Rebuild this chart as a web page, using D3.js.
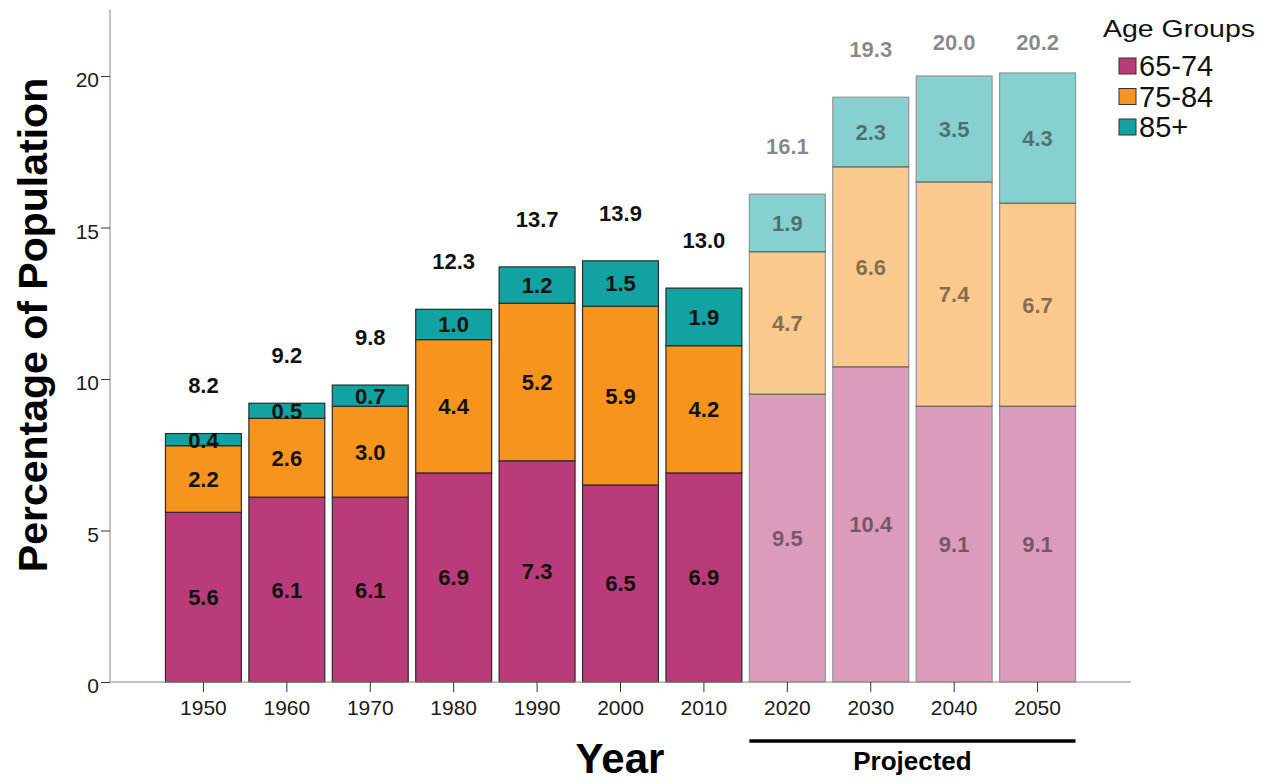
<!DOCTYPE html>
<html>
<head>
<meta charset="utf-8">
<script src="https://cdn.jsdelivr.net/npm/d3@7"></script>
<style>
  html, body { margin: 0; padding: 0; background: #fff; }
  svg { display: block; font-family: "Liberation Sans", Arial, Helvetica, sans-serif; }
</style>
</head>
<body>
<svg id="chart" width="1266" height="784"></svg>
<script>
// Share of the population aged 65+, by age group (percent)
const years = ["1950", "1960", "1970", "1980", "1990", "2000", "2010", "2020", "2030", "2040", "2050"];
const projectedYears = ["2020", "2030", "2040", "2050"];
const ageGroups = ["65-74", "75-84", "85+"];
const age65to74 = [5.6, 6.1, 6.1, 6.9, 7.3, 6.5, 6.9, 9.5, 10.4, 9.1, 9.1];
const age75to84 = [2.2, 2.6, 3.0, 4.4, 5.2, 5.9, 4.2, 4.7, 6.6, 7.4, 6.7];
const age85plus = [0.4, 0.5, 0.7, 1.0, 1.2, 1.5, 1.9, 1.9, 2.3, 3.5, 4.3];
const totals = [8.2, 9.2, 9.8, 12.3, 13.7, 13.9, 13.0, 16.1, 19.3, 20.0, 20.2];
const yTicks = [0, 5, 10, 15, 20];
const groupColors = ["#b93b7a", "#f7941d", "#12a2a2"];

const rows = years.map((yr, i) => ({
  year: yr,
  "65-74": age65to74[i],
  "75-84": age75to84[i],
  "85+": age85plus[i],
  total: totals[i],
  projected: projectedYears.includes(yr)
}));

const svg = d3.select("#chart");
const axisLeft = 110, axisRight = 1131, axisBottom = 682;

const x = d3.scaleBand()
  .domain(years)
  .range([axisLeft, axisRight])
  .paddingInner(0.09)
  .paddingOuter(0.665);

const y = d3.scaleLinear()
  .domain([0, 22.2])
  .range([axisBottom, axisBottom - 22.2 * 30.3]);

const color = d3.scaleOrdinal().domain(ageGroups).range(groupColors);

const series = d3.stack().keys(ageGroups)(rows);

// Stacked bars; projected years drawn at half strength
const layers = svg.append("g").selectAll("g")
  .data(series)
  .join("g")
  .attr("fill", d => color(d.key));

layers.selectAll("rect")
  .data(d => d)
  .join("rect")
  .attr("x", d => x(d.data.year))
  .attr("width", x.bandwidth())
  .attr("y", d => y(d[1]))
  .attr("height", d => y(d[0]) - y(d[1]))
  .attr("stroke", "#2b2b2b")
  .attr("stroke-width", 1.2)
  .attr("opacity", d => d.data.projected ? 0.5 : 1);

// Segment values
const segLabels = svg.append("g")
  .attr("font-weight", "bold")
  .attr("font-size", 22)
  .attr("text-anchor", "middle");

series.forEach(s => {
  segLabels.selectAll(null)
    .data(s)
    .join("text")
    .attr("x", d => x(d.data.year) + x.bandwidth() / 2)
    .attr("y", d => (y(d[0]) + y(d[1])) / 2)
    .attr("dy", "0.36em")
    .attr("fill", "#111")
    .attr("fill-opacity", d => d.data.projected ? 0.5 : 1)
    .text(d => (d[1] - d[0]).toFixed(1));
});

// Totals above each bar
svg.append("g")
  .attr("font-weight", "bold")
  .attr("font-size", 22)
  .attr("text-anchor", "middle")
  .selectAll("text")
  .data(rows)
  .join("text")
  .attr("x", d => x(d.year) + x.bandwidth() / 2)
  .attr("y", d => Math.max(y(d.total) - 48, 42))
  .attr("dy", "0.36em")
  .attr("fill", "#111")
  .attr("fill-opacity", d => d.projected ? 0.5 : 1)
  .text(d => d.total.toFixed(1));

// Axes
const axisColor = "#858585";

const gy = svg.append("g")
  .attr("transform", `translate(${axisLeft},0)`)
  .call(d3.axisLeft(y).tickValues(yTicks).tickFormat(d3.format("d")).tickSize(9).tickPadding(2));
gy.select(".domain").attr("stroke", axisColor).attr("d", `M0,${y(0)}V${y(22.2)}`);
gy.selectAll(".tick line").attr("stroke", "#333");
gy.selectAll(".tick text")
  .attr("font-size", 21)
  .attr("fill", "#1a1a1a")
  .attr("font-family", "'Liberation Sans', Arial, sans-serif")
  .attr("dy", "0.5em");

const gx = svg.append("g")
  .attr("transform", `translate(0,${axisBottom})`)
  .call(d3.axisBottom(x).tickSize(10).tickSizeOuter(0).tickPadding(8));
gx.select(".domain").attr("stroke", axisColor).attr("d", `M${axisLeft},0H${axisRight}`);
gx.selectAll(".tick line").attr("stroke", "#333");
gx.selectAll(".tick text")
  .attr("font-size", 21)
  .attr("fill", "#1a1a1a")
  .attr("font-family", "'Liberation Sans', Arial, sans-serif");

// Axis titles
svg.append("text")
  .attr("transform", `translate(47,${325}) rotate(-90)`)
  .attr("text-anchor", "middle")
  .attr("font-weight", "bold")
  .attr("font-size", 41)
  .attr("fill", "#000")
  .text("Percentage of Population");

svg.append("text")
  .attr("x", 620)
  .attr("y", 773)
  .attr("text-anchor", "middle")
  .attr("font-weight", "bold")
  .attr("font-size", 42)
  .attr("fill", "#000")
  .text("Year");

// Bracket over the projected years
const firstProj = x(projectedYears[0]);
const lastProj = x(projectedYears[projectedYears.length - 1]) + x.bandwidth();
svg.append("line")
  .attr("x1", firstProj).attr("x2", lastProj)
  .attr("y1", 741).attr("y2", 741)
  .attr("stroke", "#000")
  .attr("stroke-width", 3.5);

svg.append("text")
  .attr("x", (firstProj + lastProj) / 2)
  .attr("y", 770)
  .attr("text-anchor", "middle")
  .attr("font-weight", "bold")
  .attr("font-size", 26)
  .attr("fill", "#000")
  .text("Projected");

// Legend
const legend = svg.append("g");
legend.append("text")
  .attr("x", 1103).attr("y", 37)
  .attr("font-size", 24)
  .attr("textLength", 152)
  .attr("lengthAdjust", "spacingAndGlyphs")
  .attr("fill", "#111")
  .text("Age Groups");

const legendRows = legend.selectAll("g.item")
  .data(ageGroups)
  .join("g")
  .attr("class", "item")
  .attr("transform", (d, i) => `translate(1119,${76 + i * 30.5})`);

legendRows.append("rect")
  .attr("x", 0).attr("y", -18)
  .attr("width", 17).attr("height", 16)
  .attr("fill", d => color(d))
  .attr("stroke", "#333")
  .attr("stroke-width", 1);

legendRows.append("text")
  .attr("x", 20).attr("y", 0)
  .attr("font-size", 29)
  .attr("fill", "#111")
  .text(d => d);
</script>
</body>
</html>
